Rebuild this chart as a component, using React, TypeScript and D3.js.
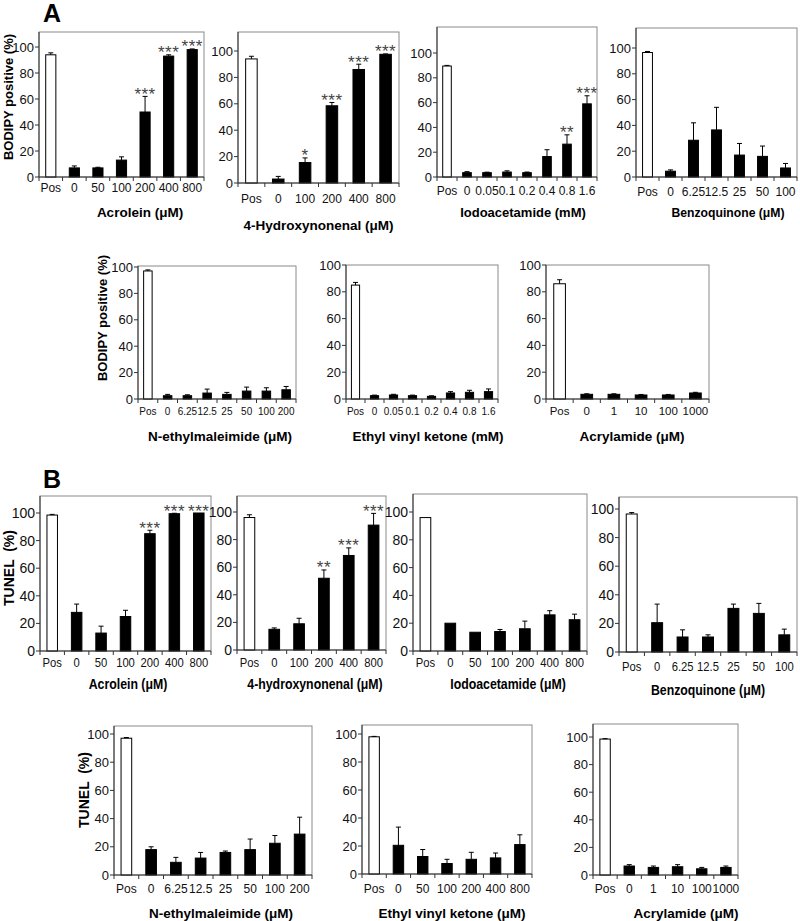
import React from "react";
import * as d3 from "d3";

const FONT = "'Liberation Sans', Arial, Helvetica, sans-serif";

// ---------- categories ----------
const catsAcrolein = ["Pos", "0", "50", "100", "200", "400", "800"];
const catsHne = ["Pos", "0", "100", "200", "400", "800"];
const catsMilliMolar = ["Pos", "0", "0.05", "0.1", "0.2", "0.4", "0.8", "1.6"];
const catsBenzo = ["Pos", "0", "6.25", "12.5", "25", "50", "100"];
const catsNem = ["Pos", "0", "6.25", "12.5", "25", "50", "100", "200"];
const catsAcrylamide = ["Pos", "0", "1", "10", "100", "1000"];
const catsMicroMolar = ["Pos", "0", "50", "100", "200", "400", "800"];
const yTicks = [0, 20, 40, 60, 80, 100];

// ---------- A: BODIPY positive (%) ----------
const bodipyAcrolein = [94, 7, 7, 13, 50, 93, 98];
const bodipyAcroleinErr = [1.5, 1.5, 0.5, 2.5, 12, 1, 0.5];
const bodipyAcroleinSig = ["", "", "", "", "***", "***", "***"];

const bodipyHne = [94, 3, 15.5, 58.5, 86, 97.5];
const bodipyHneErr = [2, 2, 3.5, 2.5, 4, 0.3];
const bodipyHneSig = ["", "", "*", "***", "***", "***"];

const bodipyIodo = [89.5, 3.5, 3.5, 4, 3.5, 16.5, 26.5, 59];
const bodipyIodoErr = [0.5, 0.8, 0.4, 1, 0.5, 5.5, 7.5, 6.5];
const bodipyIodoSig = ["", "", "", "", "", "", "**", "***"];

const bodipyBenzo = [96.5, 4.5, 28.5, 36.5, 17, 16, 7];
const bodipyBenzoErr = [0.8, 1, 13.5, 17.5, 9, 8, 3.5];

const bodipyNem = [97, 2.5, 2.5, 4.5, 3.5, 6, 6, 7];
const bodipyNemErr = [0.8, 1, 0.7, 3, 1.5, 3, 2.5, 2.5];

const bodipyEvk = [85, 2.5, 3, 2.5, 2, 4.5, 5, 5.5];
const bodipyEvkErr = [2, 0.4, 0.5, 0.4, 0.4, 1, 1.5, 2];

const bodipyAcrylamide = [86, 3.5, 3.5, 3, 3, 4.5];
const bodipyAcrylamideErr = [3, 0.4, 0.4, 0.4, 0.4, 0.5];

// ---------- B: TUNEL (%) ----------
const tunelAcrolein = [98.5, 28, 13, 25, 85, 99.5, 100];
const tunelAcroleinErr = [0.5, 6, 5, 4.5, 2.5, 0.3, 0];
const tunelAcroleinSig = ["", "", "", "", "***", "***", "***"];

const tunelHne = [96, 15, 19, 52, 68.5, 90.5];
const tunelHneErr = [2, 1, 4, 6, 5.5, 8.5];
const tunelHneSig = ["", "", "", "**", "***", "***"];

const tunelIodo = [96, 20, 13.5, 14, 16, 26, 22.5];
const tunelIodoErr = [0, 0, 0, 1.5, 5.5, 3, 4];

const tunelBenzo = [96.5, 20.5, 10.5, 10.5, 30.5, 27, 12];
const tunelBenzoErr = [1, 13, 5, 1.5, 3, 7, 4];

const tunelNem = [97, 18, 9, 12, 16, 18, 22.5, 29];
const tunelNemErr = [0.5, 2, 3.5, 4, 1, 7.5, 5.5, 12];

const tunelEvk = [98, 20.5, 12.5, 7.5, 10.5, 11.5, 21];
const tunelEvkErr = [0.3, 13, 5, 3, 5, 3.5, 7];

const tunelAcrylamide = [98.5, 6.5, 5.5, 6, 4.5, 5.5];
const tunelAcrylamideErr = [0.3, 1, 1, 1.5, 1, 1];

type Panel = {
  cats: string[];
  mean: number[];
  err: number[];
  sig?: string[];
  x0: number;
  x1: number;
  yBase: number;
  y100: number;
  yTop: number;
  xTitle: string;
  xTitleX?: number;
  xLabelY: number;
  xTitleY: number;
  tickFs: number;
  xFs: number;
  xSx: number;
  titleFs: number;
  titleSx: number;
  yTitle?: string;
  yTitleX?: number;
  yTitleY?: number;
  yTitleFs?: number;
};

const topA = { tickFs: 13, xFs: 12, xSx: 1, titleFs: 13.5, titleSx: 1 };
const midA = { tickFs: 13, xFs: 11.5, xSx: 0.87, titleFs: 13.5, titleSx: 1 };
const topB = { tickFs: 14, xFs: 12.5, xSx: 0.9, titleFs: 14, titleSx: 0.88 };
const botB = { tickFs: 13, xFs: 12, xSx: 1, titleFs: 13.5, titleSx: 1 };

const panels: Panel[] = [
  { ...topA, cats: catsAcrolein, mean: bodipyAcrolein, err: bodipyAcroleinErr, sig: bodipyAcroleinSig,
    x0: 39, x1: 204, yBase: 177, y100: 47, yTop: 32, xTitle: "Acrolein (μM)", xTitleX: 140, xLabelY: 188, xTitleY: 212,
    yTitle: "BODIPY positive (%)", yTitleX: 8, yTitleY: 97, yTitleFs: 13 },
  { ...topA, cats: catsHne, mean: bodipyHne, err: bodipyHneErr, sig: bodipyHneSig,
    x0: 238, x1: 399, yBase: 183, y100: 51, yTop: 32, xTitle: "4-Hydroxynonenal (μM)", xLabelY: 199, xTitleY: 225 },
  { ...topA, titleFs: 13, cats: catsMilliMolar, mean: bodipyIodo, err: bodipyIodoErr, sig: bodipyIodoSig,
    x0: 437, x1: 597, yBase: 177, y100: 53, yTop: 27, xTitle: "Iodoacetamide (mM)", xTitleX: 523, xLabelY: 191, xTitleY: 212 },
  { ...topA, titleFs: 12.2, cats: catsBenzo, mean: bodipyBenzo, err: bodipyBenzoErr,
    x0: 636, x1: 797, yBase: 177, y100: 48, yTop: 28, xTitle: "Benzoquinone (μM)", xTitleX: 728, xLabelY: 192, xTitleY: 213 },
  { ...midA, cats: catsNem, mean: bodipyNem, err: bodipyNemErr,
    x0: 138, x1: 296, yBase: 399, y100: 267, yTop: 266, xTitle: "N-ethylmaleimide (μM)", xTitleX: 220, xLabelY: 411, xTitleY: 436,
    yTitle: "BODIPY positive (%)", yTitleX: 102, yTitleY: 318, yTitleFs: 13 },
  { ...midA, cats: catsMilliMolar, mean: bodipyEvk, err: bodipyEvkErr,
    x0: 346, x1: 498, yBase: 399, y100: 265, yTop: 265, xTitle: "Ethyl vinyl ketone (mM)", xTitleX: 428, xLabelY: 411, xTitleY: 436 },
  { ...midA, xSx: 1, cats: catsAcrylamide, mean: bodipyAcrylamide, err: bodipyAcrylamideErr,
    x0: 546, x1: 709, yBase: 399, y100: 265, yTop: 265, xTitle: "Acrylamide (μM)", xTitleX: 632, xLabelY: 411, xTitleY: 436 },
  { ...topB, cats: catsAcrolein, mean: tunelAcrolein, err: tunelAcroleinErr, sig: tunelAcroleinSig,
    x0: 40, x1: 211, yBase: 651, y100: 513, yTop: 496, xTitle: "Acrolein (μM)", xTitleX: 128, xLabelY: 663, xTitleY: 684,
    yTitle: "TUNEL  (%)", yTitleX: 9, yTitleY: 568, yTitleFs: 14 },
  { ...topB, cats: catsHne, mean: tunelHne, err: tunelHneErr, sig: tunelHneSig,
    x0: 237, x1: 386, yBase: 650, y100: 512, yTop: 496, xTitle: "4-hydroxynonenal (μM)", xTitleX: 315, xLabelY: 663, xTitleY: 684 },
  { ...topB, cats: catsMicroMolar, mean: tunelIodo, err: tunelIodoErr,
    x0: 413, x1: 587, yBase: 651, y100: 512, yTop: 494, xTitle: "Iodoacetamide (μM)", xTitleX: 508, xLabelY: 663, xTitleY: 684 },
  { ...topB, cats: catsBenzo, mean: tunelBenzo, err: tunelBenzoErr,
    x0: 619, x1: 797, yBase: 652, y100: 509, yTop: 497, xTitle: "Benzoquinone (μM)", xTitleX: 708, xLabelY: 667, xTitleY: 690 },
  { ...botB, cats: catsNem, mean: tunelNem, err: tunelNemErr,
    x0: 114, x1: 312, yBase: 875, y100: 734, yTop: 726, xTitle: "N-ethylmaleimide (μM)", xTitleX: 221, xLabelY: 889, xTitleY: 913,
    yTitle: "TUNEL  (%)", yTitleX: 84, yTitleY: 790, yTitleFs: 14 },
  { ...botB, cats: catsMicroMolar, mean: tunelEvk, err: tunelEvkErr,
    x0: 362, x1: 532, yBase: 874, y100: 734, yTop: 725, xTitle: "Ethyl vinyl ketone (μM)", xTitleX: 452, xLabelY: 889, xTitleY: 913 },
  { ...botB, cats: catsAcrylamide, mean: tunelAcrylamide, err: tunelAcrylamideErr,
    x0: 593, x1: 738, yBase: 875, y100: 737, yTop: 724, xTitle: "Acrylamide (μM)", xTitleX: 686, xLabelY: 889, xTitleY: 913 },
];

function BarPanel({ p }: { p: Panel }) {
  const x = d3
    .scaleBand<string>()
    .domain(p.cats)
    .range([p.x0, p.x1])
    .paddingInner(0.57)
    .paddingOuter(0.285);
  const y = d3.scaleLinear().domain([0, 100]).range([p.yBase, p.y100]);
  const step = x.step();
  const bw = x.bandwidth();
  const bounds = d3.range(p.cats.length + 1).map((i) => p.x0 + i * step);
  const titleX = p.xTitleX ?? (p.x0 + p.x1) / 2;
  return (
    <g>
      <rect x={p.x0} y={p.yTop} width={p.x1 - p.x0} height={p.yBase - p.yTop} fill="none" stroke="#8a8a8a" strokeWidth={1} />
      {p.cats.map((c, i) => {
        const bx = x(c)!;
        const top = y(p.mean[i]);
        const pos = i === 0;
        return (
          <rect
            key={"b" + i}
            x={bx}
            y={top}
            width={bw}
            height={p.yBase - top}
            fill={pos ? "#fff" : "#000"}
            stroke="#000"
            strokeWidth={1}
          />
        );
      })}
      {p.cats.map((c, i) => {
        const e = p.err[i];
        if (!e) return null;
        const cx = x(c)! + bw / 2;
        const y1 = y(p.mean[i]);
        const y2 = y(p.mean[i] + e);
        return (
          <g key={"e" + i} stroke="#000" strokeWidth={1}>
            <line x1={cx} x2={cx} y1={y1} y2={y2} />
            <line x1={cx - 2.5} x2={cx + 2.5} y1={y2} y2={y2} />
          </g>
        );
      })}
      {p.sig &&
        p.cats.map((c, i) => {
          const s = p.sig![i];
          if (!s) return null;
          const cx = x(c)! + bw / 2;
          const yt = y(p.mean[i] + p.err[i]);
          return (
            <text key={"s" + i} x={cx} y={yt + 3.5} textAnchor="middle" fontSize={17} letterSpacing={0.5} fill="#444" fontFamily={FONT}>
              {s}
            </text>
          );
        })}
      <line x1={p.x0} x2={p.x0} y1={p.yTop} y2={p.yBase} stroke="#333" strokeWidth={1} />
      <line x1={p.x0} x2={p.x1} y1={p.yBase} y2={p.yBase} stroke="#333" strokeWidth={1} />
      {yTicks.map((t) => (
        <g key={"yt" + t}>
          <line x1={p.x0 - 4} x2={p.x0} y1={y(t)} y2={y(t)} stroke="#333" />
          <text x={p.x0 - 5} y={y(t)} dy="0.35em" textAnchor="end" fontSize={p.tickFs} fontFamily={FONT} fill="#111">
            {t}
          </text>
        </g>
      ))}
      {bounds.map((bx, i) => (
        <line key={"xt" + i} x1={bx} x2={bx} y1={p.yBase} y2={p.yBase + 4} stroke="#333" />
      ))}
      {p.cats.map((c) => (
        <text
          key={"xl" + c}
          transform={`translate(${x(c)! + bw / 2},${p.xLabelY}) scale(${p.xSx},1)`}
          dy="0.35em"
          textAnchor="middle"
          fontSize={p.xFs}
          fontFamily={FONT}
          fill="#111"
        >
          {c}
        </text>
      ))}
      <text
        transform={`translate(${titleX},${p.xTitleY}) scale(${p.titleSx},1)`}
        dy="0.35em"
        textAnchor="middle"
        fontSize={p.titleFs}
        fontWeight="bold"
        fontFamily={FONT}
        fill="#000"
      >
        {p.xTitle}
      </text>
      {p.yTitle && (
        <text
          transform={`translate(${p.yTitleX},${p.yTitleY}) rotate(-90)`}
          dy="0.35em"
          textAnchor="middle"
          fontSize={p.yTitleFs}
          fontWeight="bold"
          fontFamily={FONT}
          fill="#000"
          style={{ whiteSpace: "pre" }}
        >
          {p.yTitle}
        </text>
      )}
    </g>
  );
}

export default function App() {
  return (
    <svg
      width={800}
      height={921}
      viewBox="0 0 800 921"
      style={{ position: "absolute", left: 0, top: 0, background: "#fff" }}
    >
      <rect x={0} y={0} width={800} height={921} fill="#fff" />
      <text x={43} y={22} fontSize={25} fontWeight="bold" fontFamily={FONT}>A</text>
      <text x={43} y={488} fontSize={25} fontWeight="bold" fontFamily={FONT}>B</text>
      {panels.map((p, i) => (
        <BarPanel key={i} p={p} />
      ))}
    </svg>
  );
}
